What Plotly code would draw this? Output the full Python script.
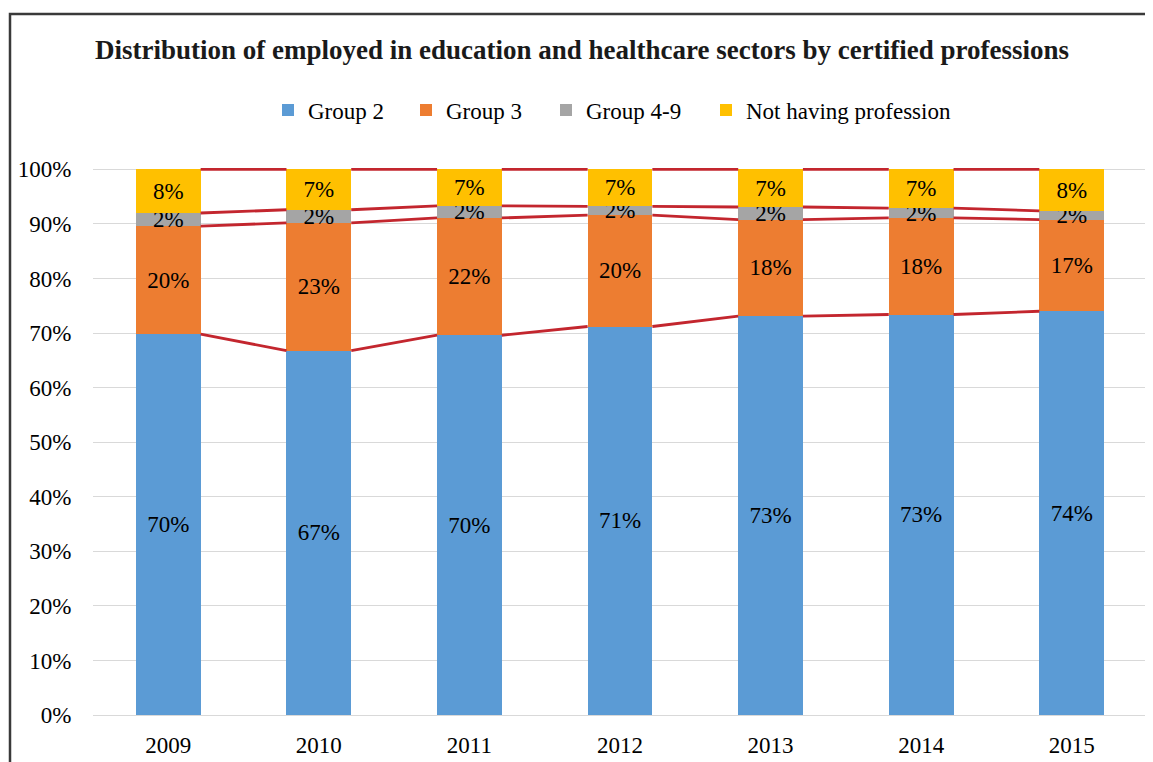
import plotly.graph_objects as go

years = ["2009", "2010", "2011", "2012", "2013", "2014", "2015"]
group2 = [69.8, 66.8, 69.6, 71.2, 73.1, 73.4, 74.0]
group3 = [19.8, 23.4, 21.5, 20.4, 17.7, 17.7, 16.8]
group49 = [2.4, 2.4, 2.2, 1.6, 2.3, 1.8, 1.6]
no_prof = [8.0, 7.4, 6.7, 6.8, 6.9, 7.1, 7.6]

names = ["Group 2", "Group 3", "Group 4-9", "Not having profession"]
colors = ["#5B9BD5", "#ED7D31", "#A5A5A5", "#FFC000"]
series = [group2, group3, group49, no_prof]

FONT = "Liberation Serif"
# page body adds an 8px margin, so the figure is 8px smaller than the window
W, H = 1145, 754
L, R, T, B = 85, 6, 160, 47
bw = 0.43
xs = list(range(len(years)))
pw = W - L - R
ph = H - T - B

# one legend per entry so the spacing matches the original
legend_ids = ["legend", "legend2", "legend3", "legend4"]
legend_left = [260, 398, 538, 698]

fig = go.Figure()
for name, col, vals, lg in zip(names, colors, series, legend_ids):
    fig.add_trace(go.Bar(
        x=xs, y=vals, name=name, width=bw, legend=lg,
        marker=dict(color=col, line=dict(width=0)),
        texttemplate="%{y:.0f}%", textposition="inside",
        insidetextanchor="middle", textangle=0, constraintext="none",
        textfont=dict(family=FONT, size=23, color="black"),
        hoverinfo="skip",
    ))

# series lines between the bars (Excel style)
cum = [0] * len(years)
for vals in series:
    cum = [c + v for c, v in zip(cum, vals)]
    for i in range(len(years) - 1):
        fig.add_trace(go.Scatter(
            x=[xs[i] + bw / 2, xs[i + 1] - bw / 2], y=[cum[i], cum[i + 1]],
            mode="lines", line=dict(color="#C3262E", width=2.8),
            showlegend=False, hoverinfo="skip",
        ))

# chart frame
fig.add_shape(type="rect", xref="paper", yref="paper",
              x0=(2 - L) / pw, x1=(W + 20 - L) / pw,
              y0=(H - B - (H + 20)) / ph, y1=(H - B - 6) / ph,
              line=dict(color="#3a3a3a", width=2.5), fillcolor="rgba(0,0,0,0)")

legends = {}
for lg, left in zip(legend_ids, legend_left):
    legends[lg] = dict(orientation="h", x=(left - L) / pw, xanchor="left",
                       y=(H - B - 102) / ph, yanchor="middle",
                       font=dict(family=FONT, size=23), itemwidth=30,
                       bgcolor="rgba(0,0,0,0)")

fig.update_layout(
    width=W, height=H,
    margin=dict(l=L, r=R, t=T, b=B, autoexpand=False),
    barmode="stack",
    plot_bgcolor="white", paper_bgcolor="white",
    font=dict(family=FONT, size=23, color="black"),
    title=dict(text="<b>Distribution of employed in education and healthcare sectors by certified professions</b>",
               x=574 / W, xanchor="center", y=1 - 42 / H, yanchor="middle",
               font=dict(family=FONT, size=27, color="#1a1a1a")),
    showlegend=True,
    **legends,
)
fig.update_xaxes(range=[-0.5, len(years) - 0.5], tickvals=xs, ticktext=years,
                 showgrid=False, zeroline=False, showline=False, automargin=False,
                 ticks="outside", ticklen=9, tickcolor="rgba(0,0,0,0)",
                 tickfont=dict(family=FONT, size=23))
fig.update_yaxes(range=[0, 100.25], tick0=0, dtick=10, ticksuffix="%",
                 showgrid=True, gridcolor="#D9D9D9", gridwidth=1.3,
                 zeroline=True, zerolinecolor="#D9D9D9", zerolinewidth=1.3, automargin=False,
                 ticks="outside", ticklen=16, tickcolor="rgba(0,0,0,0)",
                 tickfont=dict(family=FONT, size=23))

fig.write_html("out.html")
